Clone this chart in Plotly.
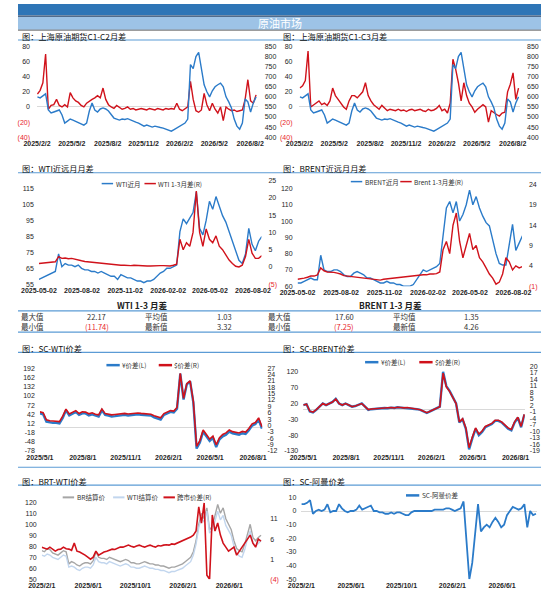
import pandas as pd
import plotly.graph_objects as go

W, H = 550, 603

BLUE = "#2B7BC9"
RED = "#D0121B"
NEG = "#E8262C"
GREY_LINE = "#A6A6A6"
LIGHT_BLUE = "#C2D6EE"

# ---- data (weekly readings) ----
sc_price = [600, 595, 605, 615, 535, 520, 525, 530, 535, 510,
            470, 480, 490, 485, 478, 475, 465, 460, 470, 530,
            570, 535, 525, 540, 545, 540, 530, 510, 495, 490,
            485, 490, 488, 492, 485, 480, 475, 470, 462, 455,
            460, 455, 450, 455, 450, 448, 445, 440, 435, 430,
            438, 445, 455, 460, 470, 490, 760, 740, 800, 820,
            740, 660, 625, 600, 630, 650, 660, 668, 650, 600,
            575, 545, 490, 455, 440, 470, 590, 575, 525, 570,
            600]
sc_c1c2 = [17, 22, 32, 70, -3, 2, 3, 10, 2, 0,
           3, 0, 19, 12, 8, 6, 2, 0, 5, 8,
           10, 12, 15, 12, 25, 10, 3, 0, -2, 2,
           -1, -3, -2, 0, -3, -2, -4, -3, -2, -3,
           -4, -2, -3, -4, -2, -3, -4, -2, -3, -2,
           -3, 5, -3, -5, -2, 0, 34, 10, -5, -7,
           -4, 18, 3, -5, 5, -3, -8, 0, -18, 0,
           -3, -5, -4, -6, -5, -4, 10, 36, 8, 5,
           16]
sc_c1c3 = [25, 28, 35, 74, 0, 3, 5, 8, 3, 5,
           2, 8, 25, 15, 10, 5, 0, -3, 8, 15,
           15, 12, 16, 20, 32, 15, 8, 3, 0, -3,
           2, -2, -5, -3, -4, -5, -3, -5, -4, -6,
           -4, -3, -5, -4, -3, -5, -6, -3, -5, -4,
           -2, 2, -5, -3, -8, 5, 63, 50, 32, 8,
           32, 15, 5, 0, -7, -3, 0, 3, 0, -20,
           -5, -8, -10, -12, -8, -7, 20, 30, 45, 10,
           25]

wti_near = [58, 59, 60, 61, 62, 63, 74, 66, 68, 67,
            67, 66, 67, 65, 64, 64, 63, 63, 62, 63,
            62, 61, 60, 60, 58, 61, 60, 59, 59, 58,
            57, 57, 56, 57, 57, 58, 60, 62, 63, 65,
            65, 66, 67, 88, 96, 93, 97, 100, 113, 90,
            86, 95, 107, 102, 110, 104, 98, 94, 88, 82,
            76, 70, 68, 74, 90, 80, 76, 82, 85]
wti_13 = [1.0, 1.1, 1.0, 1.2, 1.3, 1.5, 3.0, 2.5, 2.6, 2.4,
          2.5, 2.2, 2.0, 1.8, 1.6, 1.5, 1.3, 1.2, 1.0, 1.0,
          0.8, 0.7, 0.6, 0.6, 0.5, 0.5, 0.5, 0.4, 0.4, 0.5,
          0.4, 0.3, 0.4, 0.3, 0.3, 0.4, 0.3, 0.4, 0.4, 0.3,
          0.3, 0.5, 0.8, 8.0, 5.0, 7.0, 6.0, 10.0, 22.0, 10.0,
          6.0, 11.0, 8.0, 7.0, 9.0, 6.0, 5.0, 3.5, 2.0, 1.0,
          0.2, 0.0, 0.5, 3.0, 8.0, 4.0, 2.5, 2.5, 3.3]

brent_near = [62, 62, 63, 64, 65, 64, 64, 79, 70, 69,
              69, 70, 70, 69, 67, 66, 66, 68, 69, 68,
              67, 65, 65, 64, 63, 62, 62, 63, 62, 62,
              61, 61, 60, 60, 60, 61, 64, 67, 70, 69,
              70, 71, 72, 74, 90, 108, 112, 105, 112, 100,
              104, 110, 119, 110, 115, 108, 103, 99, 97, 88,
              80, 74, 73, 73, 85, 98, 82, 87, 91]
brent_13 = [0.7, 0.8, 1.0, 1.2, 1.5, 1.5, 1.8, 3.5, 2.8, 2.5,
            2.5, 2.4, 2.2, 2.0, 1.6, 1.5, 1.4, 1.3, 1.2, 1.1,
            1.0, 0.9, 0.8, 0.6, 0.6, 0.5, 0.7, 0.8, 0.9, 1.0,
            1.0, 1.1, 1.2, 1.3, 1.4, 1.5, 1.6, 1.7, 1.8, 1.8,
            2.0, 2.0, 2.1, 2.5, 8.0, 10.0, 7.0, 14.0, 17.0, 10.0,
            6.0, 9.0, 12.0, 8.0, 9.0, 6.0, 5.0, 3.5, 2.0, 1.0,
            -0.5, 0.0, 2.0, 6.0, 5.0, 3.0, 4.0, 3.5, 3.8]

scwti_cny = [45, 42, 18, 15, 14, 14, 12, 30, 55, 38,
             45, 50, 40, 45, 45, 38, 42, 38, 35, 55,
             40, 38, 35, 36, 38, 40, 40, 38, 40, 42,
             42, 40, 40, 38, 38, 32, 28, 25, 40, 45,
             50, 48, 60, 175, 90, 140, 150, 80, -70, -50,
             -15, -30, -45, -35, -65, -40, -30, -25, -15, -20,
             -22, -25, -20, -22, -10, 5, 10, 25, -5]
scwti_usd = [6.4, 6.0, 2.7, 2.2, 2.1, 2.0, 1.8, 4.4, 7.7, 5.4,
             6.3, 7.0, 5.6, 6.4, 6.3, 5.5, 6.0, 5.3, 5.0, 7.8,
             5.6, 5.4, 5.0, 5.2, 5.4, 5.6, 5.7, 5.4, 5.6, 6.0,
             5.9, 5.7, 5.6, 5.4, 5.3, 4.6, 4.0, 3.6, 5.6, 6.4,
             7.0, 6.8, 8.5, 24.5, 12.8, 19.7, 21.0, 11.4, -9.8, -7.1,
             -2.1, -4.2, -6.4, -5.0, -9.1, -5.7, -4.2, -3.5, -2.1, -2.9,
             -3.1, -3.5, -2.8, -3.1, -1.4, 0.8, 1.4, 3.6, -0.6]

scbrent_cny = [15, 18, -5, -8, 0, 10, 20, 15, 20, 25,
               35, 20, 15, 20, 15, 10, 12, 15, 20, 10,
               0, 2, 3, 5, 5, 6, 5, 7, 6, 8,
               7, 6, 7, 5, 4, 2, 0, -5, -10, -5,
               0, 5, 10, 120, 75, 60, 40, 20, -40, -30,
               -60, -125, -90, -60, -80, -70, -55, -50, -45, -35,
               -35, -40, -50, -60, -65, -40, -25, -55, -15]
scbrent_usd = [2.1, 2.5, -0.7, -1.1, 0.0, 1.4, 2.8, 2.1, 2.8, 3.5,
               4.9, 2.8, 2.1, 2.8, 2.1, 1.4, 1.7, 2.1, 2.8, 1.4,
               0.0, 0.3, 0.4, 0.7, 0.7, 0.8, 0.7, 1.0, 0.8, 1.1,
               1.0, 0.8, 1.0, 0.7, 0.6, 0.3, 0.0, -0.7, -1.4, -0.7,
               0.0, 0.7, 1.4, 16.8, 10.5, 8.4, 5.6, 2.8, -5.6, -4.2,
               -8.4, -17.5, -12.6, -8.4, -11.2, -9.8, -7.7, -7.0, -6.3, -4.9,
               -4.9, -5.6, -7.0, -8.4, -9.1, -5.6, -3.5, -7.7, -2.1]

br_settle = [76, 75, 78, 77, 74, 73, 72, 74, 76, 75,
             64, 66, 65, 63, 62, 64, 65, 65, 64, 67,
             75, 70, 69, 69, 68, 70, 69, 68, 67, 66,
             67, 68, 67, 65, 65, 64, 64, 65, 66, 65,
             64, 64, 63, 63, 62, 62, 61, 60, 61, 61,
             62, 63, 64, 66, 68, 70, 75, 85, 100, 110,
             105, 115, 95, 98, 108, 118, 110, 115, 105, 100,
             95, 85, 78, 76, 75, 82, 92, 100, 88, 85,
             88, 90]
wti_settle = [72, 71, 73, 72, 70, 69, 68, 70, 72, 71,
              61, 62, 61, 59, 58, 60, 61, 61, 60, 63,
              70, 66, 65, 65, 64, 66, 65, 64, 63, 62,
              63, 64, 63, 61, 61, 60, 60, 61, 62, 61,
              60, 60, 59, 59, 58, 58, 57, 56, 57, 57,
              58, 59, 60, 62, 64, 66, 72, 82, 97, 106,
              102, 112, 92, 95, 103, 112, 104, 108, 99, 95,
              90, 80, 74, 71, 70, 77, 87, 94, 83, 80,
              83, 85]
brt_wti = [4.0, 3.8, 3.5, 4.0, 3.6, 3.0, 3.4, 3.5, 4.0, 3.6,
           3.5, 3.2, 5.0, 3.0, 2.8, 2.5, 2.0, 1.5, 1.0, 1.5,
           3.0, 2.0, 2.5, 2.8, 3.0, 3.2, 3.5, 3.4, 3.8, 4.0,
           4.0, 4.2, 4.5, 4.2, 4.0, 4.3, 4.5, 4.2, 4.0, 4.3,
           4.5, 4.2, 4.0, 4.4, 4.3, 4.5, 4.6, 4.5, 4.8, 4.7,
           5.0, 5.2, 5.5, 6.0, 6.2, 6.5, 7.0, 8.0, 14.0, 10.0,
           15.0, -3.0, -4.0, 12.0, 8.0, 10.0, 7.0, 5.0, 4.0, 3.0,
           3.5, 4.0, 2.0, 3.0, 4.0, 5.0, 6.0, 7.0, 5.0, 4.0,
           6.0, 5.5]

sc_oman = [5, 5, 6, 8, -2, 0, 1, 0, 1, 5,
           -1, 0, 0, 5, 2, 0, -1, 0, 0, 1,
           4, 1, 2, 3, 4, 0, 0, -1, -1, -2,
           -2, -1, -2, -1, -1, -2, -3, -3, -1, 0,
           0, 0, 0, 0, 0, 0, 1, 1, 1, 1,
           2, 2, 1, 0, 1, 2, 7, -20, -50, -38,
           -15, 5, -15, -12, -10, -12, -8, -5, -8, -12,
           -10, -3, 0, 3, 2, 1, 2, 5, -12, 0,
           -3, -2]

# table values
wti_stats = ["22.17", "1.03", "(11.74)", "3.32"]
brent_stats = ["17.60", "1.35", "(7.25)", "4.26"]


def weekly(start, values):
    return pd.date_range(start, periods=len(values), freq="7D")


def fx(v):
    return v / W


def fy(v):
    return 1 - v / H


def red(s):
    return f"<span style='color:{NEG}'>{s}</span>"


fig = go.Figure()
shapes, annos = [], []
AXFONT = dict(family="Liberation Sans, Arial", size=7, color="#262626")


def panel(p, xpx, ypx, xrange, xticks, xfmt, yl, yr=None):
    xn = "" if p == 0 else str(p + 1)
    yln, yrn = str(2 * p + 1), str(2 * p + 2)
    yln_key = "" if yln == "1" else yln
    tv = pd.to_datetime(xticks)
    fig.layout["xaxis" + xn] = dict(
        domain=[fx(xpx[0]), fx(xpx[1])], range=xrange, anchor="y" + yln,
        tickvals=tv, ticktext=[f"<b>{t.strftime(xfmt).replace('/0', '/')}</b>" for t in tv],
        showgrid=False, zeroline=False, showline=False, ticks="",
        tickfont=AXFONT, ticklabelstandoff=1,
    )
    fig.layout["yaxis" + yln_key] = dict(
        domain=[fy(ypx[1]), fy(ypx[0])], anchor="x" + xn, range=yl["range"],
        tickvals=yl["vals"], ticktext=yl["text"], showgrid=False,
        zeroline=yl.get("zero", False), zerolinecolor="#D9D9D9", zerolinewidth=1,
        showline=False, ticks="", tickfont=AXFONT, ticklabelstandoff=yl.get("off", 3),
    )
    if yr:
        fig.layout["yaxis" + yrn] = dict(
            overlaying="y" + yln, side="right", anchor="x" + xn, range=yr["range"],
            tickvals=yr["vals"], ticktext=yr["text"], showgrid=False, zeroline=False,
            showline=False, ticks="", tickfont=AXFONT, ticklabelstandoff=yr.get("off", 3),
        )
    return "x" + xn, "y" + yln, "y" + yrn


def ticks(vals, neg_red=True):
    out = []
    for v in vals:
        if v < 0 and neg_red:
            out.append(red(f"({-v:g})"))
        else:
            out.append(f"{v:g}")
    return out


def line(x, y, xa, ya, color, width=1.3, name=""):
    fig.add_trace(go.Scatter(x=x, y=y, xaxis=xa, yaxis=ya, mode="lines", name=name,
                             line=dict(color=color, width=width), showlegend=False))


def title(text, x, y):
    annos.append(dict(text=text, x=fx(x), y=fy(y), xref="paper", yref="paper",
                      xanchor="left", yanchor="middle", showarrow=False,
                      font=dict(family="Noto Sans CJK SC", size=8.2, color="#111")))


def hline(y, color="#5B9BD5", width=1.2, x0=0, x1=W):
    shapes.append(dict(type="line", xref="paper", yref="paper", x0=fx(x0), x1=fx(x1),
                       y0=fy(y), y1=fy(y), line=dict(color=color, width=width)))


def legend_item(x, y, color, text, width=1.5, seg=12):
    shapes.append(dict(type="line", xref="paper", yref="paper", x0=fx(x), x1=fx(x + seg),
                       y0=fy(y), y1=fy(y), line=dict(color=color, width=width)))
    annos.append(dict(text=text, x=fx(x + seg + 1.5), y=fy(y), xref="paper", yref="paper",
                      xanchor="left", yanchor="middle", showarrow=False, borderpad=0,
                      font=dict(family="Noto Sans CJK SC", size=6.5, color="#333")))


def txt(text, x, y, size=7.5, color="#222", anchor="left"):
    annos.append(dict(text=text, x=fx(x), y=fy(y), xref="paper", yref="paper",
                      xanchor=anchor, yanchor="middle", showarrow=False, borderpad=0,
                      font=dict(family="Noto Sans CJK SC", size=size, color=color)))


# ---- header ----
shapes.append(dict(type="rect", xref="paper", yref="paper", x0=0, x1=1, y0=fy(11.5), y1=1,
                   fillcolor="#2E75B6", line=dict(width=0)))
shapes.append(dict(type="rect", xref="paper", yref="paper", x0=0, x1=1, y0=fy(26), y1=fy(13),
                   fillcolor="#9DC3E6", line=dict(width=0)))
hline(12.2, "#1F3F66", 1.2)
hline(26.5, "#404040", 0.8)
txt("原油市场", 275, 19.5, size=11, color="white", anchor="center")

# ---- panel 1 & 2: SC C1-C2 / C1-C3 ----
p1_ticks = ["2025-02-02", "2025-05-02", "2025-08-02", "2025-11-02",
            "2026-02-02", "2026-05-02", "2026-08-02"]
yl_sc = dict(range=[-40, 80], vals=list(range(-40, 81, 20)),
             text=ticks(range(-40, 81, 20)), zero=True, off=6)
yr_sc = dict(range=[400, 850], vals=list(range(400, 851, 50)),
             text=[str(v) for v in range(400, 851, 50)], off=6)
for p, (xpx, spread, name) in enumerate([((20, 252), sc_c1c2, "C1-C2"),
                                          ((296, 528), sc_c1c3, "C1-C3")]):
    xa, ya, yb = panel(p, xpx, (43, 135), ["2025-02-02", "2026-08-21"], p1_ticks,
                       "%Y/%m/%d", yl_sc, yr_sc)
    line(weekly("2025-02-03", sc_price), sc_price, xa, yb, BLUE, 1.4)
    line(weekly("2025-02-03", spread), spread, xa, ya, RED, 1.4)
title("图：上海原油期货C1-C2月差", 2, 32)
title("图：上海原油期货C1-C3月差", 277, 32)
hline(36.5)

# ---- WTI / BRENT near-far ----
wb_ticks = ["2025-05-02", "2025-08-02", "2025-11-02", "2026-02-02", "2026-05-02", "2026-08-02"]
xa, ya, yb = panel(2, (22, 256), (179, 284), ["2025-05-02", "2026-08-20"], wb_ticks, "%Y-%m-%d",
                   dict(range=[55, 120], vals=list(range(55, 116, 10)),
                        text=[str(v) for v in range(55, 116, 10)], off=4),
                   dict(range=[-5, 25], vals=list(range(-5, 26, 5)), text=ticks(range(-5, 26, 5)), off=6))
line(weekly("2025-05-02", wti_near), wti_near, xa, ya, BLUE, 1.4)
line(weekly("2025-05-02", wti_13), wti_13, xa, yb, RED, 1.4)
xa, ya, yb = panel(3, (294, 530), (183, 286), ["2025-05-02", "2026-08-20"], wb_ticks, "%Y-%m-%d",
                   dict(range=[60, 122.4], vals=list(range(60, 121, 10)),
                        text=[str(v) for v in range(60, 121, 10)], off=4),
                   dict(range=[-1, 24], vals=list(range(-1, 25, 5)), text=ticks(range(-1, 25, 5)), off=6))
line(weekly("2025-05-02", brent_near), brent_near, xa, ya, BLUE, 1.4)
line(weekly("2025-05-02", brent_13), brent_13, xa, yb, RED, 1.4)
title("图：WTI近远月月差", 2, 166)
title("图：BRENT近远月月差", 277, 166)
hline(171)
legend_item(88, 182, BLUE, "WTI近月")
legend_item(133, 182, RED, "WTI 1-3月差(R)")
legend_item(350, 180, BLUE, "BRENT近月")
legend_item(402, 180, RED, "Brent 1-3月差(R)")

# ---- tables ----
txt("<b>WTI 1-3 月差</b>", 130, 305.5, size=8.5, anchor="center")
txt("<b>BRENT 1-3 月差</b>", 392, 305.5, size=8.5, anchor="center")
hline(311, "#5B9BD5", 1.4)
for x0, vals in [(2, wti_stats), (262, brent_stats)]:
    txt("最大值", x0, 316.8, color="#333")
    txt("最小值", x0, 327.2, color="#333")
    txt("平均值", x0 + 131, 316.8, color="#333")
    txt("最新值", x0 + 131, 327.2, color="#333")
    txt(vals[0], x0 + 81, 316.8, color="#333", anchor="center")
    txt(vals[1], x0 + 215, 316.8, color="#333", anchor="center")
    txt(vals[2], x0 + 81, 327.2, color=NEG, anchor="center")
    txt(vals[3], x0 + 215, 327.2, color="#333", anchor="center")
hline(332.5, "#5B9BD5", 1.4)

# ---- SC-WTI / SC-BRENT ----
sp_ticks = ["2025-05-01", "2025-08-01", "2025-11-01", "2026-02-01", "2026-05-01", "2026-08-01"]
xa, ya, yb = panel(4, (23, 257), (369, 453), ["2025-05-01", "2026-08-21"], sp_ticks, "%Y/%m/%d",
                   dict(range=[-78, 193], vals=list(range(-78, 193, 30)),
                        text=[str(v) for v in range(-78, 193, 30)], zero=True, off=4),
                   dict(range=[-12, 27], vals=list(range(-12, 28, 3)),
                        text=[str(v) for v in range(-12, 28, 3)], off=4))
line(weekly("2025-05-01", scwti_cny), scwti_cny, xa, ya, BLUE, 2.4)
line(weekly("2025-05-01", scwti_usd), scwti_usd, xa, yb, RED, 1.6)
xa, ya, yb = panel(5, (300, 533), (367, 453), ["2025-05-01", "2026-08-21"], sp_ticks, "%Y/%m/%d",
                   dict(range=[-130, 138], vals=list(range(-130, 121, 50)),
                        text=[str(v) for v in range(-130, 121, 50)], zero=True, off=4),
                   dict(range=[-19, 20], vals=list(range(-19, 21, 3)),
                        text=[str(v) for v in range(-19, 21, 3)], off=4))
line(weekly("2025-05-01", scbrent_cny), scbrent_cny, xa, ya, BLUE, 2.4)
line(weekly("2025-05-01", scbrent_usd), scbrent_usd, xa, yb, RED, 1.6)
title("图：SC-WTI价差", 2, 348.5)
title("图：SC-BRENT价差", 277, 348.5)
hline(353)
legend_item(93, 366, BLUE, "¥价差(L)", width=2.5, seg=14)
legend_item(148, 366, RED, "$价差(R)", width=2.5, seg=14)
legend_item(365, 363, BLUE, "¥价差(L)", width=2.5, seg=14)
legend_item(422, 363, RED, "$价差(R)", width=2.5, seg=14)
hline(469.5)

# ---- BRT-WTI / SC-Oman ----
bw_ticks = ["2025-02-01", "2025-06-01", "2025-10-01", "2026-02-01", "2026-06-01"]
xa, ya, yb = panel(6, (25, 258), (505, 583), ["2025-02-01", "2026-08-28"], bw_ticks, "%Y/%m/%d",
                   dict(range=[50, 120], vals=list(range(50, 121, 10)),
                        text=[str(v) for v in range(50, 121, 10)], off=4),
                   dict(range=[-4, 15.16], vals=[-4, 1, 6, 11], text=ticks([-4, 1, 6, 11]), off=6))
line(weekly("2025-02-01", br_settle), br_settle, xa, ya, GREY_LINE, 1.4)
line(weekly("2025-02-01", wti_settle), wti_settle, xa, ya, LIGHT_BLUE, 1.4)
line(weekly("2025-02-01", brt_wti), brt_wti, xa, yb, RED, 1.6)
xa, ya, yb = panel(7, (298, 546), (500, 583), ["2025-02-01", "2026-08-25"], bw_ticks, "%Y/%m/%d",
                   dict(range=[-50, 10], vals=list(range(-50, 11, 10)),
                        text=[str(v) for v in range(-50, 11, 10)], zero=True, off=4))
line(weekly("2025-02-01", sc_oman), sc_oman, xa, ya, BLUE, 1.8)
title("图：BRT-WTI价差", 2, 483)
title("图：SC-阿曼价差", 277, 483)
hline(487.5)
legend_item(47, 500, GREY_LINE, "BR结算价", width=2)
legend_item(100, 500, LIGHT_BLUE, "WTI结算价", width=2)
legend_item(153, 500, RED, "跨市价差(R)", width=2)
legend_item(408, 498, BLUE, "SC-阿曼价差", width=2.5, seg=14)

fig.update_layout(
    width=W, height=H, margin=dict(l=0, r=0, t=0, b=0),
    paper_bgcolor="white", plot_bgcolor="rgba(0,0,0,0)",
    font=dict(family="Liberation Sans, Noto Sans CJK SC"),
    shapes=shapes, annotations=annos, showlegend=False,
)
fig.write_html("out.html", config={"displayModeBar": False},
               post_script="document.body.style.margin='0px';")
